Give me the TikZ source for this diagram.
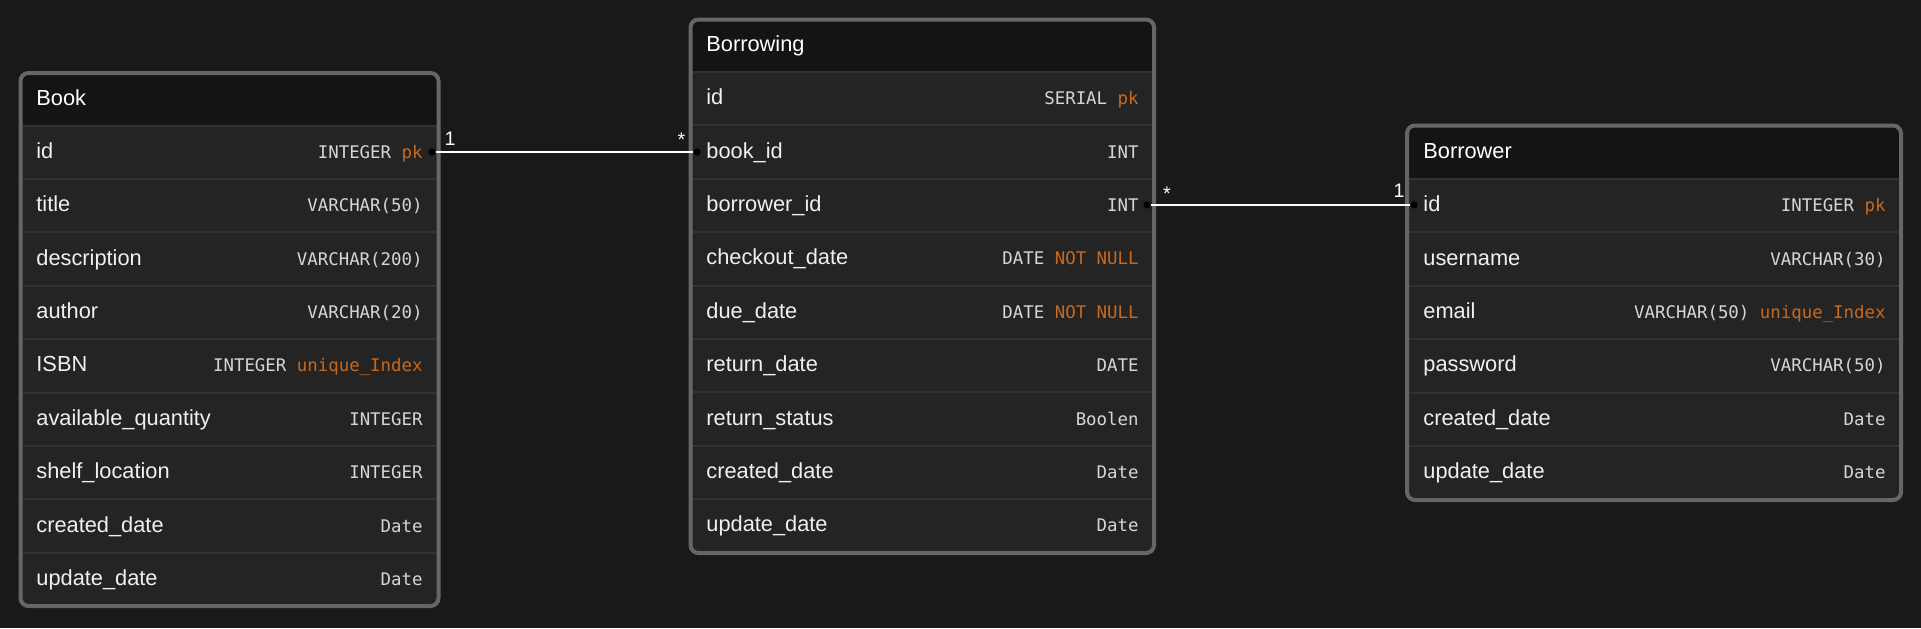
\documentclass[tikz,border=0pt]{standalone}
\usepackage{fontspec}
\setmainfont{Liberation Sans}
\setmonofont{DejaVu Sans Mono}
\definecolor{bgdark}{HTML}{191919}
\definecolor{headdark}{HTML}{141414}
\definecolor{rowgray}{HTML}{242424}
\definecolor{linegray}{HTML}{323232}
\definecolor{framegray}{HTML}{666666}
\definecolor{keyorange}{HTML}{C8691E}
\definecolor{typegray}{HTML}{D6D6D6}
\newcommand{\attr}[1]{\textcolor{keyorange}{#1}}
\begin{document}
\begin{tikzpicture}[x=0.5pt,y=-0.5pt,
    frame/.style={draw=framegray,line width=2pt,rounded corners=4pt},
    sep/.style={draw=linegray,line width=1pt},
    head/.style={anchor=base west,text=white,inner sep=0pt,font=\fontsize{10.9}{13}\selectfont},
    fname/.style={anchor=base west,text=white!94!black,inner sep=0pt,font=\fontsize{10.9}{13}\selectfont},
    ftype/.style={anchor=base east,text=typegray,inner sep=0pt,font=\ttfamily\fontsize{8.7}{10}\selectfont},
    joint/.style={circle,fill=black,inner sep=0pt,minimum size=3.6pt},
    rel/.style={draw=white,line width=0.8pt},
    card/.style={anchor=north,text=white,inner sep=0pt,font=\fontsize{9.8}{12}\selectfont}]
  \fill[bgdark] (0,0) rectangle (1921,628);
  \useasboundingbox (0,0) rectangle (1921,628);

  %%Book
  \fill[rowgray,rounded corners=4pt] (20.5,73) rectangle (438.5,606);
  \begin{scope}
    \clip[rounded corners=4pt] (20.5,73) rectangle (438.5,606);
    \fill[headdark] (20.5,73) rectangle (438.5,125.5);
  \end{scope}
  \foreach \k in {0,...,8}
    \draw[sep] (20.5,{125.5+53.4*\k}) -- (438.5,{125.5+53.4*\k});
  \draw[frame] (20.5,73) rectangle (438.5,606);
  \node[head] (book) at (36,105) {Book};
  \foreach \nm/\ty [count=\i] in {id/{INTEGER \attr{pk}}, title/{VARCHAR(50)},
      description/{VARCHAR(200)}, author/{VARCHAR(20)}, ISBN/{INTEGER \attr{unique\_Index}},
      available\_quantity/{INTEGER}, shelf\_location/{INTEGER},
      created\_date/{Date}, update\_date/{Date}}
  {
    \node[fname] (book-\i) at (36,{125.5+53.4*(\i-0.5)+6}) {\nm};
    \node[ftype] (book-\i-t) at (423,{125.5+53.4*(\i-0.5)+6}) {\ty};
  }

  %%Borrowing
  \fill[rowgray,rounded corners=4pt] (690.5,19.5) rectangle (1154,553);
  \begin{scope}
    \clip[rounded corners=4pt] (690.5,19.5) rectangle (1154,553);
    \fill[headdark] (690.5,19.5) rectangle (1154,72);
  \end{scope}
  \foreach \k in {0,...,8}
    \draw[sep] (690.5,{72+53.4*\k}) -- (1154,{72+53.4*\k});
  \draw[frame] (690.5,19.5) rectangle (1154,553);
  \node[head] (borrowing) at (706,51.7) {Borrowing};
  \foreach \nm/\ty [count=\i] in {id/{SERIAL \attr{pk}}, book\_id/{INT}, borrower\_id/{INT},
      checkout\_date/{DATE \attr{NOT NULL}}, due\_date/{DATE \attr{NOT NULL}},
      return\_date/{DATE}, return\_status/{Boolen},
      created\_date/{Date}, update\_date/{Date}}
  {
    \node[fname] (bwg-\i) at (706,{72+53.4*(\i-0.5)+6}) {\nm};
    \node[ftype] (bwg-\i-t) at (1139,{72+53.4*(\i-0.5)+6}) {\ty};
  }

  %%Borrower
  \fill[rowgray,rounded corners=4pt] (1407,125.5) rectangle (1901,500);
  \begin{scope}
    \clip[rounded corners=4pt] (1407,125.5) rectangle (1901,500);
    \fill[headdark] (1407,125.5) rectangle (1901,179);
  \end{scope}
  \foreach \k in {0,...,5}
    \draw[sep] (1407,{179+53.4*\k}) -- (1901,{179+53.4*\k});
  \draw[frame] (1407,125.5) rectangle (1901,500);
  \node[head] (borrower) at (1423,158.3) {Borrower};
  \foreach \nm/\ty [count=\i] in {id/{INTEGER \attr{pk}}, username/{VARCHAR(30)},
      email/{VARCHAR(50) \attr{unique\_Index}}, password/{VARCHAR(50)},
      created\_date/{Date}, update\_date/{Date}}
  {
    \node[fname] (bwr-\i) at (1423,{179+53.4*(\i-0.5)+6}) {\nm};
    \node[ftype] (bwr-\i-t) at (1886,{179+53.4*(\i-0.5)+6}) {\ty};
  }

  %%Links
  \node[joint] (book-id-p) at (432,152) {};
  \node[joint] (bwg-book-p) at (697,152) {};
  \node[joint] (bwg-bwr-p) at (1147,205) {};
  \node[joint] (bwr-id-p) at (1414,205) {};
  \draw[rel] (book-id-p) -- (bwg-book-p);
  \draw[rel] (bwg-bwr-p) -- (bwr-id-p);
  \node[card] (c1) at (450,132) {1};
  \node[card] (c2) at (681.5,133) {*};
  \node[card] (c3) at (1167,187) {*};
  \node[card] (c4) at (1399,184) {1};
\end{tikzpicture}
\end{document}
